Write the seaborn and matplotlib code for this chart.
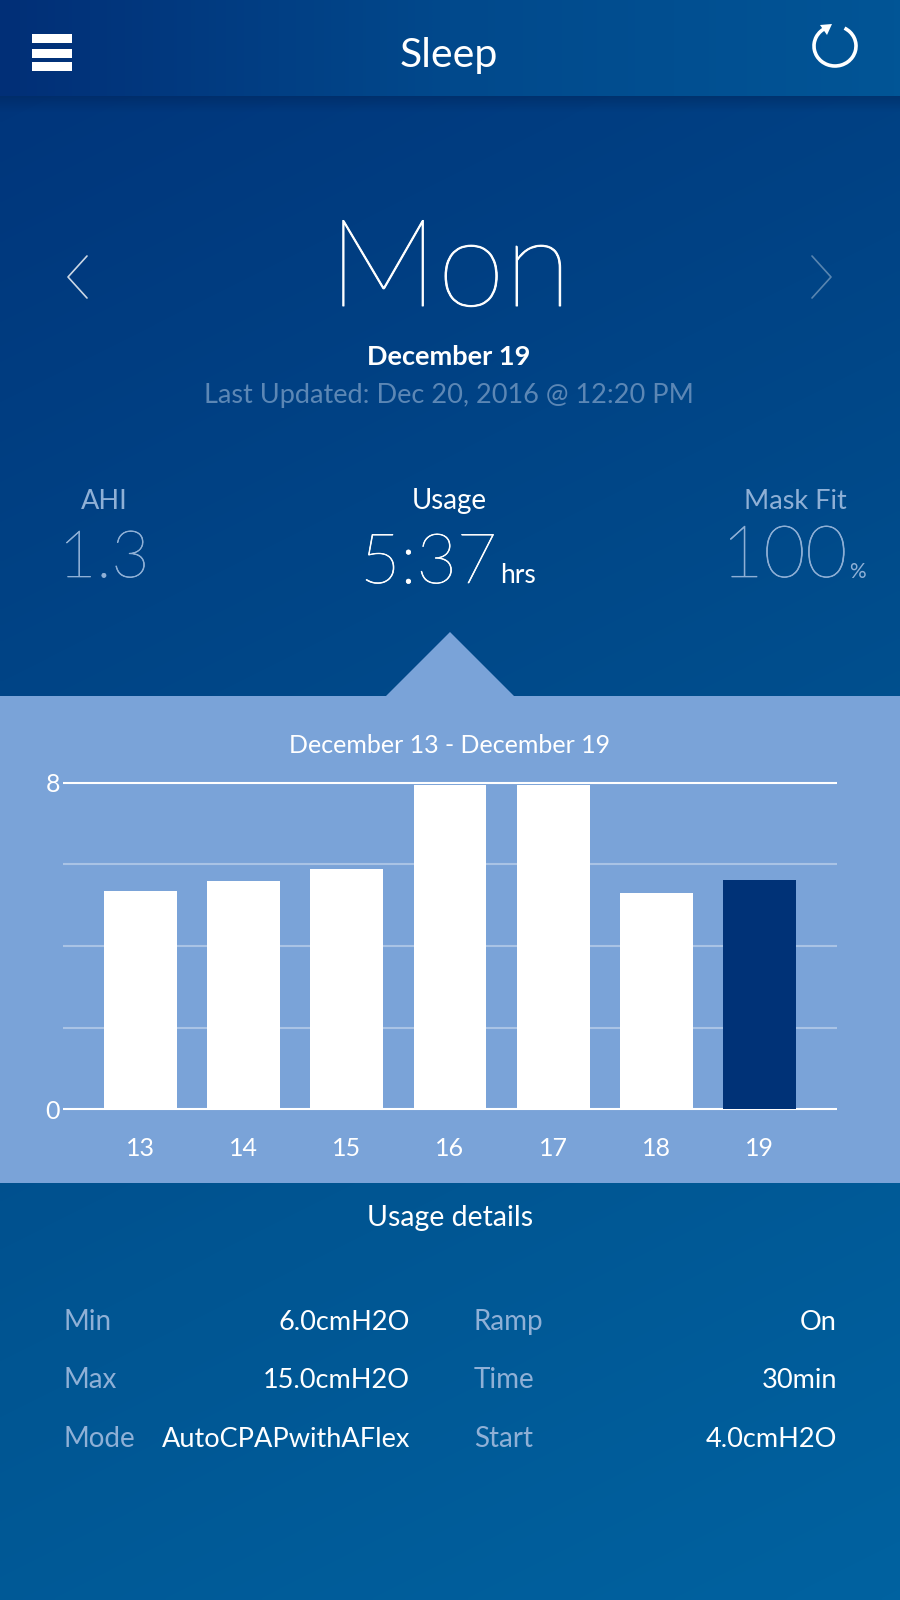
import numpy as np
import pandas as pd
import matplotlib.pyplot as plt
import matplotlib.patheffects as pe
import seaborn as sns
from matplotlib.colors import LinearSegmentedColormap
from matplotlib.patches import Arc, Polygon, Rectangle

# chart values
days = ['13', '14', '15', '16', '17', '18', '19']
usage_hours = [5.34, 5.59, 5.89, 7.95, 7.95, 5.29, 5.62]
bar_colors = ['white'] * 6 + ['#003277']
y_ticks = [0, 2, 4, 6, 8]
y_tick_labels = ['0', '', '', '', '8']

# screen text
left_details = [('Min', '6.0cmH2O'), ('Max', '15.0cmH2O'), ('Mode', 'AutoCPAPwithAFlex')]
right_details = [('Ramp', 'On'), ('Time', '30min'), ('Start', '4.0cmH2O')]
detail_rows_y = [1322, 1380, 1439]

PANEL = '#7AA3D8'
MUTED = '#8FB0D6'

sns.set_theme(style='white')
plt.rcParams['font.family'] = ['Lato', 'DejaVu Sans']

fig = plt.figure(figsize=(9, 16), dpi=100)

# full screen layer in pixel coordinates
bg = fig.add_axes([0, 0, 1, 1])
bg.set_xlim(0, 900)
bg.set_ylim(1600, 0)
bg.axis('off')

# diagonal background gradient
yy, xx = np.mgrid[0:1600:400j, 0:900:225j]
body = LinearSegmentedColormap.from_list('body', ['#00337A', '#004486', '#005592', '#0062A0'])
bg.imshow(0.22 * xx / 900 + 0.78 * yy / 1600, cmap=body, vmin=0, vmax=1,
          extent=(0, 900, 1600, 0), aspect='auto', zorder=0, interpolation='bilinear')

# header bar with its own gradient and a soft shadow under it
head = LinearSegmentedColormap.from_list('head', ['#012F77', '#01498C', '#015596'])
bg.imshow(np.linspace(0, 1, 200).reshape(1, -1), cmap=head, extent=(0, 900, 96, 0),
          aspect='auto', zorder=1, interpolation='bilinear')
shadow = LinearSegmentedColormap.from_list('shadow', [(0, 0.12, 0.3, 0.35), (0, 0.12, 0.3, 0)])
bg.imshow(np.linspace(0, 1, 30).reshape(-1, 1), cmap=shadow, extent=(0, 900, 112, 96),
          aspect='auto', zorder=1)
bg.set_xlim(0, 900)
bg.set_ylim(1600, 0)

# light panel behind the chart, with the pointer above Usage
bg.add_patch(Rectangle((0, 696), 900, 487, color=PANEL, lw=0, zorder=2))
bg.add_patch(Polygon([(386, 696), (450, 632), (514, 696)], color=PANEL, lw=0, zorder=2))

# menu icon
for top in [34, 48.5, 62]:
    bg.add_patch(Rectangle((32, top), 40, 9, color='white', lw=0, zorder=3))

# refresh icon
bg.add_patch(Arc((835, 46), 42, 40, theta1=-62, theta2=245, color='white', lw=2.6, zorder=3))
bg.add_patch(Polygon([(820, 25), (832, 24), (827, 35)], color='white', lw=0, zorder=3))

# day chevrons
bg.plot([87, 68, 87], [256, 277, 298], color='white', alpha=0.8, lw=1.2, zorder=3)
bg.plot([812, 831, 812], [256, 277, 298], color='white', alpha=0.35, lw=1.2, zorder=3)


def label(x, y, text, size, color='white', ha='center', weight='normal', stroke=0):
    t = bg.text(x, y, text, fontsize=size, color=color, ha=ha, va='baseline', weight=weight, zorder=4)
    if stroke:
        # the installed thin cut is lighter than the reference, thicken it a little
        t.set_path_effects([pe.withStroke(linewidth=stroke, foreground=color)])


label(449, 67, 'Sleep', 29.5)
label(450, 306, 'Mon', 88, weight='ultralight', stroke=0.7)
label(449, 365, 'December 19', 19.5, weight='bold')
label(449, 403, 'Last Updated: Dec 20, 2016 @ 12:20 PM', 19.5, color='#5C87B5')

label(104, 509, 'AHI', 19.5, color=MUTED)
label(104, 577, '1.3', 47, color=MUTED, weight='ultralight', stroke=0.5)
label(449, 509, 'Usage', 20)
label(497, 583, '5:37', 50, ha='right', weight='ultralight', stroke=0.5)
label(500, 583, 'hrs', 19, ha='left')
label(795, 509, 'Mask Fit', 19.5, color=MUTED)
label(847, 577, '100', 52, color=MUTED, ha='right', weight='ultralight', stroke=0.5)
label(849, 578, '%', 15, color=MUTED, ha='left')

label(450, 753, 'December 13 - December 19', 18)
label(450, 1226, 'Usage details', 20.5)

for row_y, (name, value), (name2, value2) in zip(detail_rows_y, left_details, right_details):
    label(63, row_y + 8, name, 20, color=MUTED, ha='left')
    label(410, row_y + 8, value, 19.5, ha='right')
    label(474, row_y + 8, name2, 20, color=MUTED, ha='left')
    label(837, row_y + 8, value2, 19.5, ha='right')

# bar chart: x from 63 to 837 px, value 8 at y=783 px, value 0 at y=1109 px
ax = fig.add_axes([63 / 900, 1 - 1113.1 / 1600, 774 / 900, 334.2 / 1600])
ax.patch.set_alpha(0)
df = pd.DataFrame({'Day': days, 'Usage': usage_hours})
sns.barplot(ax=ax, data=df, x='Day', y='Usage', hue='Day', palette=bar_colors,
            width=0.708, saturation=1, legend=False, zorder=3, linewidth=0)
ax.set_xlim(-0.754, 6.754)
ax.set_ylim(-0.1, 8.1)
ax.set_xlabel('')
ax.set_ylabel('')
sns.despine(ax=ax, left=True, bottom=True)
ax.set_yticks(y_ticks, y_tick_labels)
ax.tick_params(axis='y', length=0, pad=2, labelsize=18, labelcolor='white')
ax.tick_params(axis='x', length=0, pad=17, labelsize=18, labelcolor='white')
ax.set_axisbelow(True)
ax.grid(axis='y', color='#A9C3E5', lw=1.5)
for line, value in zip(ax.get_ygridlines(), y_ticks):
    if value in (0, 8):
        line.set_color('white')

fig.savefig('out.png', dpi=100, facecolor='#00447F')
